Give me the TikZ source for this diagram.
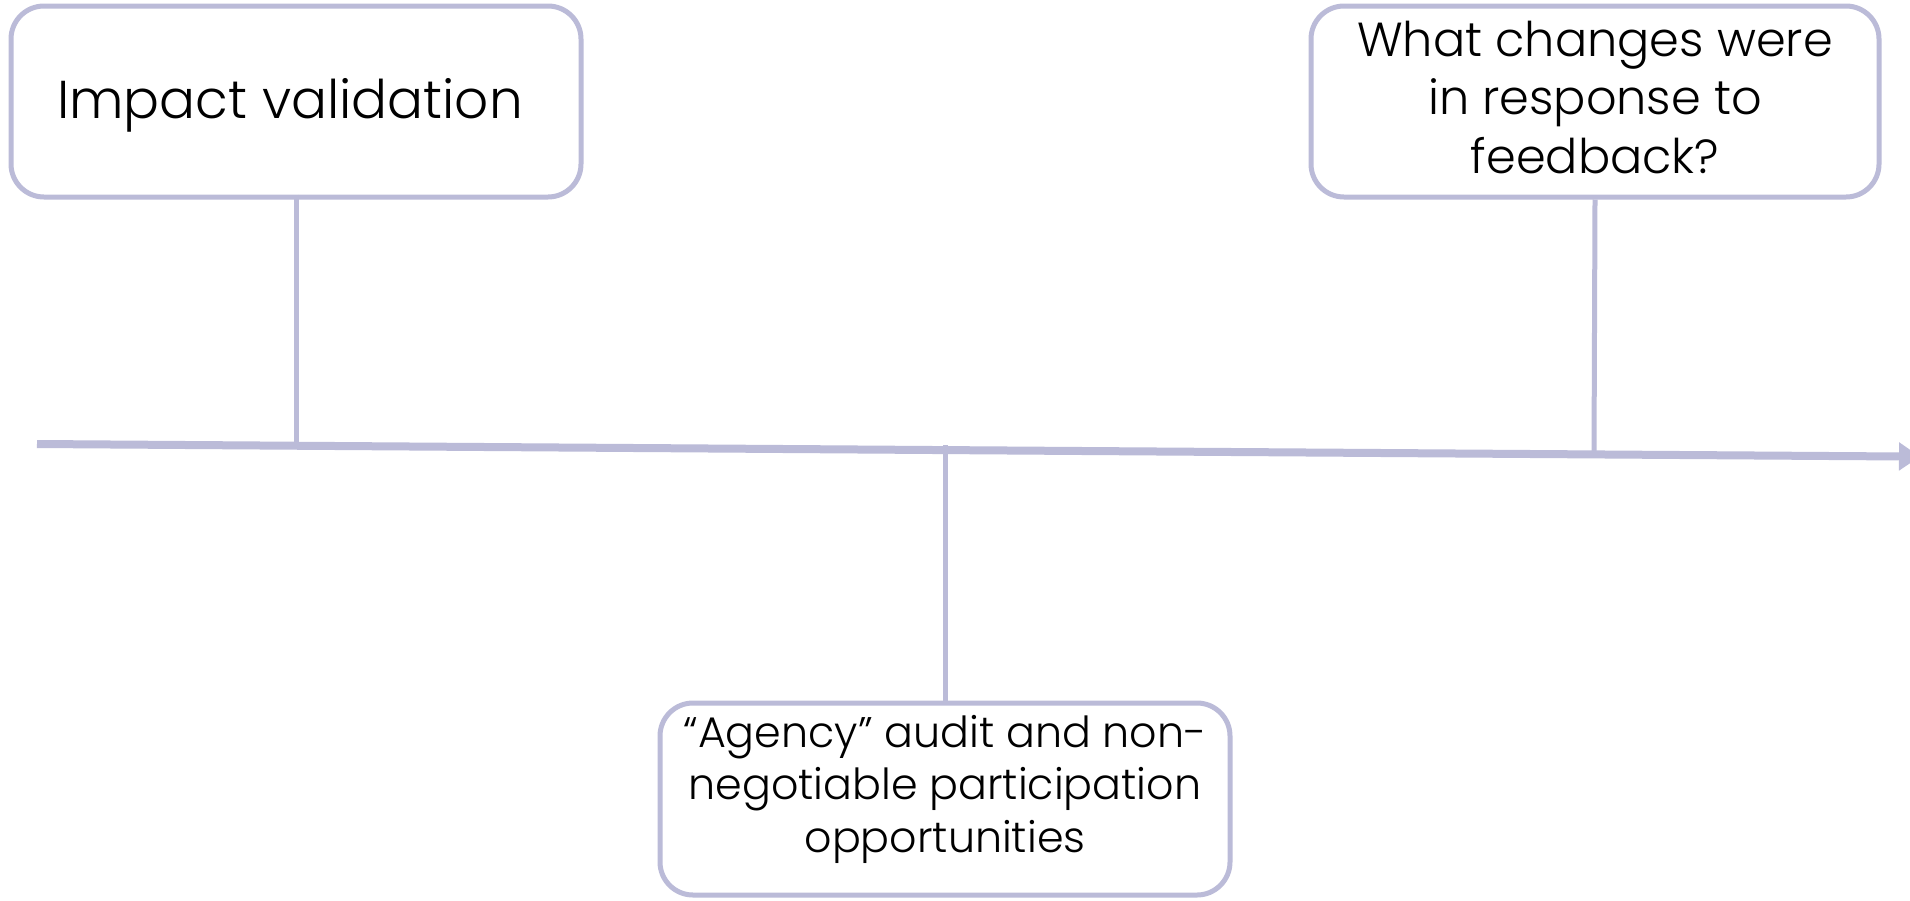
\documentclass[tikz,border=0pt]{standalone}
\usepackage{fontspec}
\setmainfont{Poppins}[UprightFont=* Light]
\usetikzlibrary{arrows.meta}
\definecolor{lav}{RGB}{187,187,216}
\begin{document}
\begin{tikzpicture}[x=1pt,y=-1pt,
  box/.style={draw=lav,line width=5pt,rounded corners=33pt,fill=white,inner sep=0pt},
  conn/.style={draw=lav,line width=5pt},
  txt/.style={align=center,inner sep=0pt,text=black}]
\useasboundingbox (0,0) rectangle (1910,900);
\fill[white] (0,0) rectangle (1910,900);
% timeline
\coordinate (L) at (37,444);
\coordinate (R) at (1920,456.6);
\draw[lav,line width=8pt,-{Triangle[length=21pt,width=27pt]}] (L) -- (R);
% boxes
\node[box,minimum width=570pt,minimum height=191pt] (b1) at (296,101.5) {};
\node[txt,font=\fontsize{53.3}{62}\selectfont] (t1) at ([xshift=-6pt,yshift=-4pt]b1.center) {Impact validation};
\node[box,minimum width=568pt,minimum height=191pt] (b2) at (1595,101.5) {};
\node[txt,font=\fontsize{47.8}{58.5}\selectfont] (t2) at ([yshift=4pt]b2.center) {What changes were\\in response to\\feedback?};
\node[box,minimum width=570pt,minimum height=192pt] (b3) at (945,799) {};
\node[txt,font=\fontsize{42.8}{52.5}\selectfont] (t3) at ([yshift=10pt]b3.center) {“Agency” audit and non-\\negotiable participation\\opportunities};
% connectors
\coordinate (j1) at (296,449);
\coordinate (j2) at (1594,454);
\coordinate (j3) at (945,445);
\draw[conn] ([yshift=5pt]b1.south) -- (j1);
\draw[conn] (b2.south) -- (j2);
\draw[conn] (j3) -- (b3.north);
\end{tikzpicture}
\end{document}
